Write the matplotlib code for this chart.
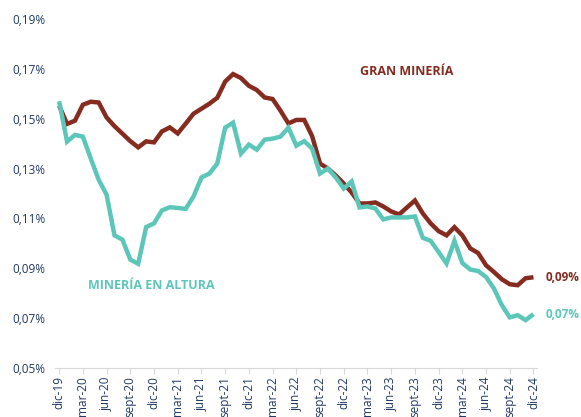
import matplotlib.pyplot as plt

plt.rcParams['font.family'] = ['Open Sans', 'DejaVu Sans']

# meses dic-19 .. dic-24
meses = ['dic', 'ene', 'feb', 'mar', 'abr', 'may', 'jun', 'jul', 'ago', 'sept', 'oct', 'nov']
labels = []
for i in range(61):
    m = meses[i % 12]
    yr = 19 + (i + 11) // 12
    labels.append(m + '-' + str(yr))

# valores en %
gran_mineria = [0.1552, 0.1479, 0.1492, 0.1556, 0.1568, 0.1565, 0.1505, 0.1470, 0.1440, 0.1410,
                0.1385, 0.1409, 0.1405, 0.1449, 0.1465, 0.1441, 0.1480, 0.1520, 0.1540, 0.1560,
                0.1584, 0.1649, 0.1679, 0.1663, 0.1632, 0.1615, 0.1585, 0.1579, 0.1532, 0.1481,
                0.1495, 0.1495, 0.1430, 0.1320, 0.1300, 0.1272, 0.1240, 0.1204, 0.1160, 0.1160,
                0.1164, 0.1148, 0.1128, 0.1116, 0.1144, 0.1172, 0.1120, 0.1080, 0.1049, 0.1032,
                0.1065, 0.1032, 0.0980, 0.0961, 0.0912, 0.0885, 0.0856, 0.0836, 0.0832, 0.0860,
                0.0864]
mineria_altura = [0.1570, 0.1408, 0.1435, 0.1428, 0.1340, 0.1255, 0.1195, 0.1032, 0.1015, 0.0935,
                  0.0918, 0.1065, 0.1080, 0.1132, 0.1145, 0.1142, 0.1138, 0.1188, 0.1264, 0.1280,
                  0.1320, 0.1464, 0.1484, 0.1360, 0.1396, 0.1376, 0.1416, 0.1420, 0.1428, 0.1464,
                  0.1392, 0.1410, 0.1380, 0.1280, 0.1300, 0.1264, 0.1220, 0.1248, 0.1144, 0.1148,
                  0.1140, 0.1096, 0.1104, 0.1104, 0.1104, 0.1108, 0.1022, 0.1010, 0.0965, 0.0919,
                  0.1010, 0.0921, 0.0895, 0.0889, 0.0865, 0.0819, 0.0752, 0.0703, 0.0712, 0.0692,
                  0.0716]
yticks = [0.05, 0.07, 0.09, 0.11, 0.13, 0.15, 0.17, 0.19]

red = '#862B1F'
teal = '#5CC7B9'
navy = '#203864'

x = list(range(len(labels)))

fig = plt.figure(figsize=(5.81, 4.17), dpi=100)
ax = fig.add_axes([0.095, 0.1175, 0.83, 0.837])

ax.plot(x, gran_mineria, color=red, lw=3.2, solid_capstyle='butt', solid_joinstyle='miter')
ax.plot(x, mineria_altura, color=teal, lw=3.2, solid_capstyle='butt', solid_joinstyle='miter')

ax.set_ylim(0.05, 0.19)
ax.set_xlim(-0.5, 60.5)
ax.set_yticks(yticks)
ax.set_yticklabels([('%.2f%%' % v).replace('.', ',') for v in yticks], color=navy, fontsize=8.5)
ax.set_xticks(x[::3])
ax.set_xticklabels(labels[::3], rotation=90, color=navy, fontsize=8.5)

for s in ['top', 'right', 'left']:
    ax.spines[s].set_visible(False)
ax.spines['bottom'].set_color('#D9D9D9')
ax.tick_params(axis='y', length=0, pad=7)
ax.tick_params(axis='x', length=4, color='#D9D9D9', pad=2)

ax.text(43.9, 0.1688, 'GRAN MINERÍA', color=red, fontsize=9, fontweight='bold', ha='center', va='center')
ax.text(11.6, 0.0832, 'MINERÍA EN ALTURA', color=teal, fontsize=9, fontweight='bold', ha='center', va='center')
ax.text(61.6, gran_mineria[-1], '0,09%', color=red, fontsize=8.5, fontweight='bold', ha='left', va='center')
ax.text(61.6, mineria_altura[-1], '0,07%', color=teal, fontsize=8.5, fontweight='bold', ha='left', va='center')

fig.savefig('out.png', dpi=100)
